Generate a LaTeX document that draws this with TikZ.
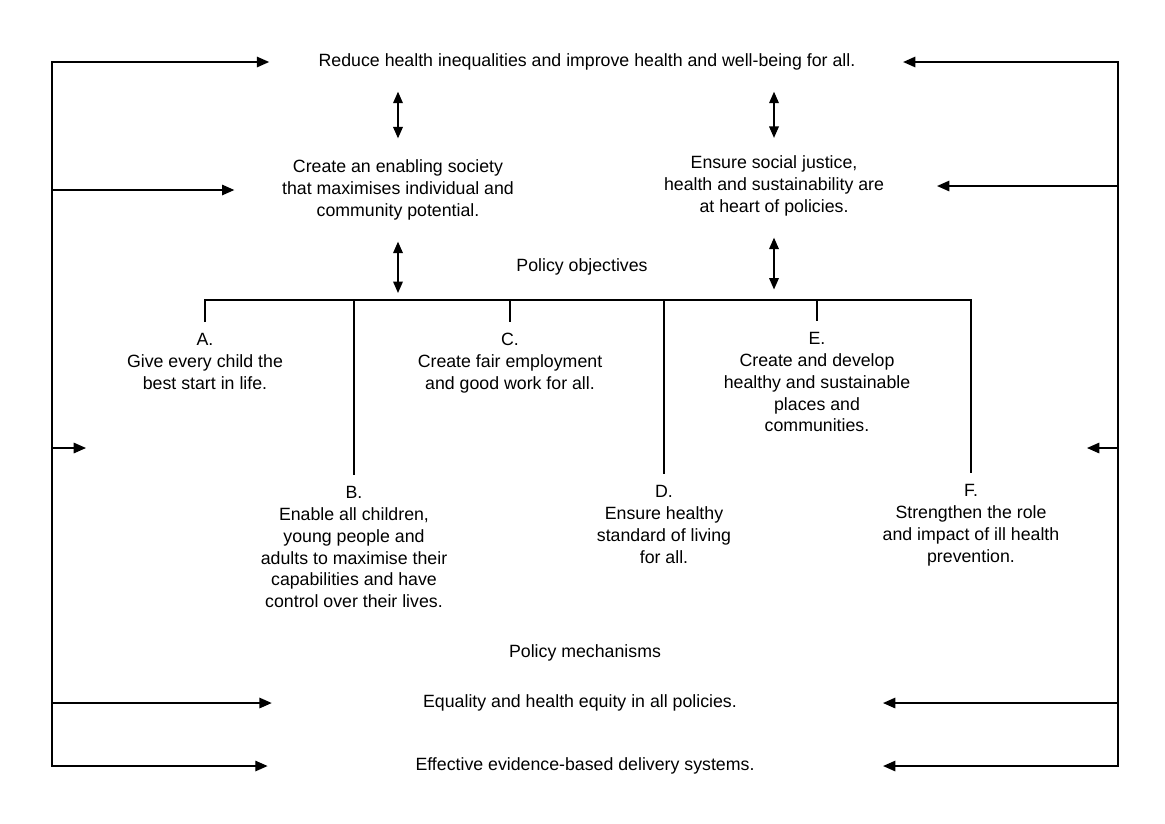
\documentclass[tikz,border=0pt]{standalone}
\usepackage{fontspec}
\setmainfont{Liberation Sans}
\usetikzlibrary{arrows.meta,positioning,calc}

\begin{document}
\begin{tikzpicture}[
  x=0.02cm, y=-0.02cm,
  txt/.style={inner sep=0pt, font=\fontsize{10.1}{12.5}\selectfont, align=center},
  obj/.style={txt, anchor=north, inner ysep=6pt, execute at begin node=\strut},
  wire/.style={line width=0.75pt},
  farr/.style={wire, -{Triangle[length=7pt, width=6pt]}},
  darr/.style={wire, {Triangle[length=6.5pt, width=5.5pt]}-{Triangle[length=6.5pt, width=5.5pt]}}
]
\useasboundingbox (0,0) rectangle (1165,823);

% Aims
\node[txt] (goal) at (587,62) {Reduce health inequalities and improve health and well-being for all.};
\node[txt] (soc)  at (398,190) {Create an enabling society\\that maximises individual and\\community potential.};
\node[txt] (just) at (774,186) {Ensure social justice,\\health and sustainability are\\at heart of policies.};
\node[txt] (pobj) at (582,267) {Policy objectives};

% Policy objectives
\coordinate (bar) at (0,300);
\node[obj] (A) at (205,322) {A.\\Give every child the\\best start in life.};
\node[obj] (B) at (354,475) {B.\\Enable all children,\\young people and\\adults to maximise their\\capabilities and have\\control over their lives.};
\node[obj] (C) at (510,322) {C.\\Create fair employment\\and good work for all.};
\node[obj] (D) at (664,474) {D.\\Ensure healthy\\standard of living\\for all.};
\node[obj] (E) at (817,321) {E.\\Create and develop\\healthy and sustainable\\places and\\communities.};
\node[obj] (F) at (971,473) {F.\\Strengthen the role\\and impact of ill health\\prevention.};

% Policy mechanisms
\node[txt] (pmech) at (585,653) {Policy mechanisms};
\node[txt] (equal) at (580,703) {Equality and health equity in all policies.};
\node[txt] (evid)  at (585,766) {Effective evidence-based delivery systems.};

% Side spines
\coordinate (ltop) at (52,62);
\coordinate (lbot) at (52,766);
\coordinate (rtop) at (1118,62);
\coordinate (rbot) at (1118,766);
\coordinate (lobj) at (86,448);
\coordinate (robj) at (1087,448);

% Left feedback arrows
\draw[farr, shorten >=28pt] (lbot) -- (ltop) -- (goal.west);
\draw[farr, shorten >=84pt] (ltop) -- (lbot) -- (evid.west);
\draw[farr, shorten >=27pt] (ltop |- soc) -- (soc.west);
\draw[farr] (ltop |- lobj) -- (lobj);
\draw[farr, shorten >=86pt] (ltop |- equal) -- (equal.west);

% Right feedback arrows
\draw[farr, shorten >=27pt] (rbot) -- (rtop) -- (goal.east);
\draw[farr, shorten >=73pt] (rtop) -- (rbot) -- (evid.east);
\draw[farr, shorten >=30pt] (rtop |- just) -- (just.east);
\draw[farr] (rtop |- robj) -- (robj);
\draw[farr, shorten >=83pt] (rtop |- equal) -- (equal.east);

% Two-way links
\draw[darr, shorten <=12pt, shorten >=12pt] (goal.south -| soc) -- (soc.north);
\draw[darr, shorten <=12pt, shorten >=10pt] (goal.south -| just) -- (just.north);
\draw[darr, shorten <=12pt, shorten >=4pt] (soc.south) -- (soc.south |- bar);
\draw[darr, shorten <=12pt, shorten >=6pt] (just.south) -- (just.south |- bar);

% Objective tree
\draw[wire] (A.north) -- (A.north |- bar) -- (F.north |- bar) -- (F.north);
\foreach \n in {B,C,D,E}
  \draw[wire] (\n.north |- bar) -- (\n.north);
\end{tikzpicture}
\end{document}
